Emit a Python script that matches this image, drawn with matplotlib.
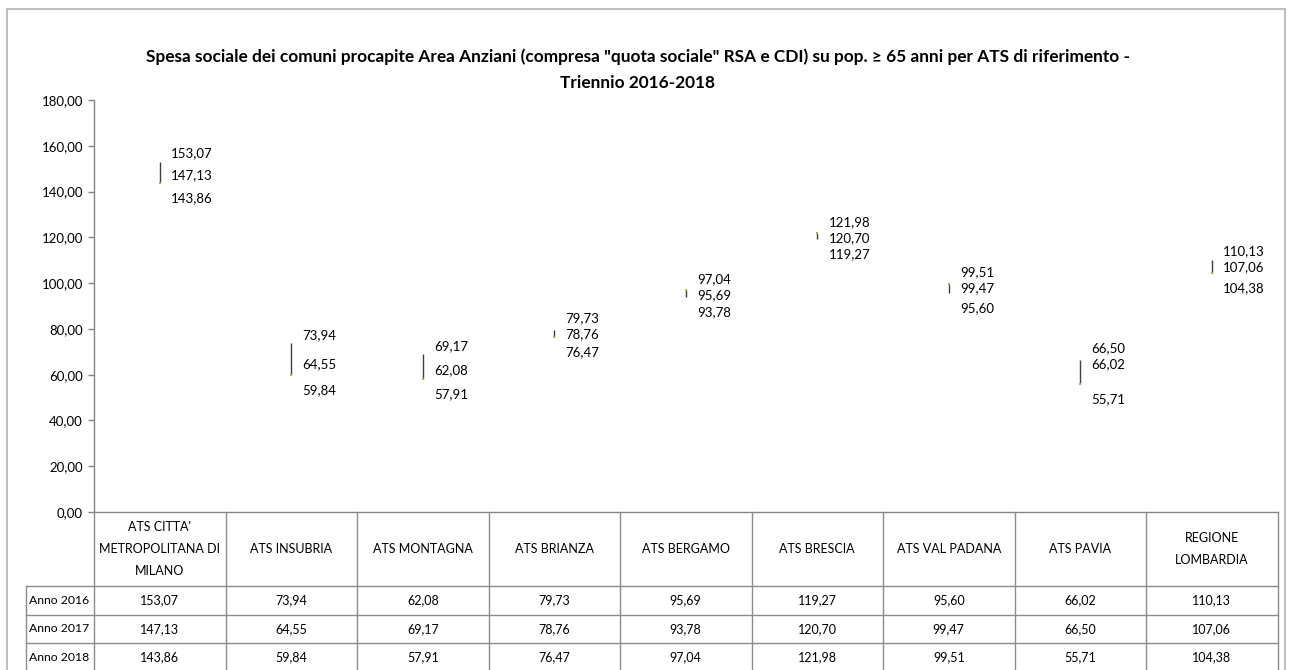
import numpy as np
import matplotlib.pyplot as plt
from matplotlib.patches import Rectangle

plt.rcParams['font.family'] = ['Lato', 'DejaVu Sans']

categories = ["ATS CITTA'\nMETROPOLITANA DI\nMILANO", "ATS INSUBRIA", "ATS MONTAGNA",
              "ATS BRIANZA", "ATS BERGAMO", "ATS BRESCIA", "ATS VAL PADANA",
              "ATS PAVIA", "REGIONE\nLOMBARDIA"]
years = ['Anno 2016', 'Anno 2017', 'Anno 2018']
anno_2016 = [153.07, 73.94, 62.08, 79.73, 95.69, 119.27, 95.60, 66.02, 110.13]
anno_2017 = [147.13, 64.55, 69.17, 78.76, 93.78, 120.70, 99.47, 66.50, 107.06]
anno_2018 = [143.86, 59.84, 57.91, 76.47, 97.04, 121.98, 99.51, 55.71, 104.38]
y_ticks = [0, 20, 40, 60, 80, 100, 120, 140, 160, 180]

title = ('Spesa sociale dei comuni procapite Area Anziani (compresa "quota sociale" RSA e CDI) '
         'su pop. \u2265 65 anni per ATS di riferimento -\nTriennio 2016-2018')


def fmt(v):
    return f'{v:.2f}'.replace('.', ',')


W, H = 1293, 670
fig = plt.figure(figsize=(W / 100, H / 100), dpi=100)

# outer chart frame (cut at the bottom like the screenshot)
fig.patches.append(Rectangle((7 / W, -0.05), (1285 - 7) / W, (H - 9) / H + 0.05,
                             transform=fig.transFigure, fill=False,
                             edgecolor='#BFBFBF', linewidth=1.5))

fig.text(638 / W, (H - 69.5) / H, title, ha='center', va='center',
         fontsize=12.4, fontweight='bold', linespacing=1.8)

# plot area
ax = fig.add_axes([94 / W, (H - 512) / H, 1183.5 / W, 412 / H])
x = np.arange(len(categories)) + 0.5
data = np.array([anno_2016, anno_2017, anno_2018])
lo = data.min(axis=0)
hi = data.max(axis=0)

ax.vlines(x, lo, hi, color='#404040', linewidth=1)
ax.plot(x, anno_2018, linestyle='none', marker='s', markersize=2,
        color='#9BBB59', markeredgewidth=0)

ax.set_xlim(0, len(categories))
ax.set_ylim(0, 180)
ax.set_yticks(y_ticks)
ax.set_yticklabels([fmt(t) for t in y_ticks])
ax.set_xticks([])
for s in ['top', 'right']:
    ax.spines[s].set_visible(False)
for s in ['left', 'bottom']:
    ax.spines[s].set_color('#868686')
    ax.spines[s].set_linewidth(1)
ax.tick_params(axis='y', length=4, width=1, color='#868686', pad=4, labelsize=9.5)

# data labels: highest a bit above, middle right, lowest below, then spread
min_gap = 16
for i in range(len(categories)):
    vals = data[:, i]
    disp = ax.transData.transform(np.column_stack([np.full(3, x[i]), vals]))[:, 1]
    order = np.argsort(-vals)
    pos = disp.copy()
    pos[order[0]] += 8
    pos[order[2]] -= 15
    for _ in range(20):
        for a, b in zip(order[:-1], order[1:]):
            gap = pos[a] - pos[b]
            if gap < min_gap:
                shift = (min_gap - gap) / 2
                pos[a] += shift
                pos[b] -= shift
    for k in range(3):
        ax.annotate(fmt(vals[k]), xy=(x[i], vals[k]),
                    xytext=(8, (pos[k] - disp[k]) * 72 / fig.dpi),
                    textcoords='offset points', ha='left', va='center', fontsize=9.5)

# data table under the plot
header_h = 74
row_h = 28.5
tab_h = header_h + row_h * len(years)
label_left = -68 / 131.5
lc = '#8C8C8C'
tax = fig.add_axes([94 / W, (H - 512 - tab_h) / H, 1183.5 / W, tab_h / H])
tax.axis('off')
tax.set_xlim(0, len(categories))
tax.set_ylim(tab_h, 0)

for c in range(len(categories) + 1):
    tax.plot([c, c], [0, tab_h], color=lc, lw=1, clip_on=False)
tax.plot([label_left, label_left], [header_h, tab_h], color=lc, lw=1, clip_on=False)
for r in range(len(years) + 1):
    yy = header_h + r * row_h
    tax.plot([label_left, len(categories)], [yy, yy], color=lc, lw=1, clip_on=False)

for i, cat in enumerate(categories):
    tax.text(i + 0.5, header_h / 2, cat, ha='center', va='center',
             fontsize=9, linespacing=2.0)
for r, (yr, row) in enumerate(zip(years, data)):
    yy = header_h + (r + 0.5) * row_h
    tax.text(label_left + 0.02, yy, yr, ha='left', va='center', fontsize=8.8)
    for i, v in enumerate(row):
        tax.text(i + 0.5, yy, fmt(v), ha='center', va='center', fontsize=9)

fig.savefig('out.png', dpi=100)
